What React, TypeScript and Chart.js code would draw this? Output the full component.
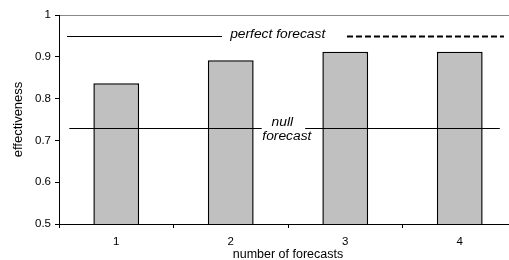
import React, { useEffect, useRef } from "react";
import { Chart, registerables } from "chart.js";

Chart.register(...registerables);

const categories = ["1", "2", "3", "4"];
const effectiveness = [0.837, 0.892, 0.912, 0.912];
const yTicks = [0.5, 0.6, 0.7, 0.8, 0.9, 1];
const perfectForecast = 0.95;
const nullForecast = 0.73;
const xTitle = "number of forecasts";
const yTitle = "effectiveness";

const FONT = "'Liberation Sans', Arial, sans-serif";

const refLinesPlugin = {
  id: "refLines",
  afterDatasetsDraw(chart: any) {
    const { ctx, scales } = chart;
    const x = scales.x;
    const y = scales.y;
    const px = (i: number) => x.getPixelForValue(i);
    const yp = y.getPixelForValue(perfectForecast);
    const yn = y.getPixelForValue(nullForecast);
    ctx.save();
    ctx.strokeStyle = "#000";
    ctx.lineWidth = 1;
    const seg = (a: number, b: number, yy: number) => {
      ctx.beginPath();
      ctx.moveTo(px(a), Math.round(yy) + 0.5);
      ctx.lineTo(px(b), Math.round(yy) + 0.5);
      ctx.stroke();
    };
    // perfect forecast
    seg(-0.43, 0.924, yp);
    ctx.save();
    ctx.setLineDash([6, 3]);
    ctx.lineWidth = 2;
    ctx.beginPath();
    ctx.moveTo(px(2.015), Math.round(yp) + 0.5);
    ctx.lineTo(px(3.386), Math.round(yp) + 0.5);
    ctx.stroke();
    ctx.restore();
    // null forecast
    seg(-0.41, 1.27, yn);
    seg(1.65, 3.35, yn);

    ctx.fillStyle = "#000";
    ctx.textAlign = "center";
    ctx.textBaseline = "alphabetic";
    ctx.font = `italic 12px ${FONT}`;
    const txt = (s: string, i: number, yy: number) => {
      ctx.save();
      ctx.translate(px(i), yy);
      ctx.scale(1.15, 1);
      ctx.fillText(s, 0, 0);
      ctx.restore();
    };
    txt("perfect forecast", 1.41, yp + 2);
    txt("null", 1.45, yn - 2);
    txt("forecast", 1.49, yn + 12);
    ctx.restore();
  },
};

export default function App() {
  const ref = useRef<HTMLCanvasElement | null>(null);
  useEffect(() => {
    if (!ref.current) return;
    const chart = new Chart(ref.current, {
      type: "bar",
      data: {
        labels: categories,
        datasets: [
          {
            data: effectiveness,
            backgroundColor: "#c0c0c0",
            borderColor: "#000",
            borderWidth: 1.5,
            barPercentage: 0.4,
            categoryPercentage: 1,
          },
        ],
      },
      options: {
        animation: false,
        responsive: false,
        maintainAspectRatio: false,
        layout: { padding: { top: 15, left: 0, right: 0, bottom: 0 } },
        plugins: { legend: { display: false }, tooltip: { enabled: false } },
        scales: {
          x: {
            offset: true,
            grid: {
              offset: true,
              drawOnChartArea: false,
              tickLength: 4,
              tickColor: "#000",
            },
            border: { display: true, color: "#000", width: 1 },
            ticks: {
              color: "#000",
              font: { family: FONT, size: 11.5 },
              padding: 7,
              maxRotation: 0,
            },
            title: {
              display: true,
              text: xTitle,
              color: "#000",
              font: { family: FONT, size: 12.5, lineHeight: 1 },
              padding: { top: 0, bottom: -1 },
            },
            afterFit(scale: any) {
              scale.height = 36;
            },
          },
          y: {
            min: yTicks[0],
            max: yTicks[yTicks.length - 1],
            afterBuildTicks(scale: any) {
              scale.ticks = yTicks.map((v) => ({ value: v }));
            },
            grid: {
              color: (c: any) => (c.tick && c.tick.value === 1 ? "#888" : "transparent"),
              tickColor: "#000",
              tickLength: 4,
            },
            border: { display: true, color: "#000", width: 1 },
            ticks: {
              color: "#000",
              font: { family: FONT, size: 11.5 },
              padding: 4,
              callback: (v: any) => (v === 1 ? "1" : Number(v).toFixed(1)),
            },
            title: {
              display: true,
              text: yTitle,
              color: "#000",
              font: { family: FONT, size: 13, lineHeight: 1 },
              padding: { top: 12, bottom: 0 },
            },
            afterFit(scale: any) {
              scale.width = 59;
            },
          },
        },
      },
      plugins: [refLinesPlugin],
    });
    return () => chart.destroy();
  }, []);
  return (
    <div
      style={{
        position: "fixed",
        left: 0,
        top: 0,
        width: 509,
        height: 260,
        overflow: "hidden",
        background: "#fff",
      }}
    >
      <canvas ref={ref} width={517} height={260} style={{ display: "block" }} />
    </div>
  );
}
